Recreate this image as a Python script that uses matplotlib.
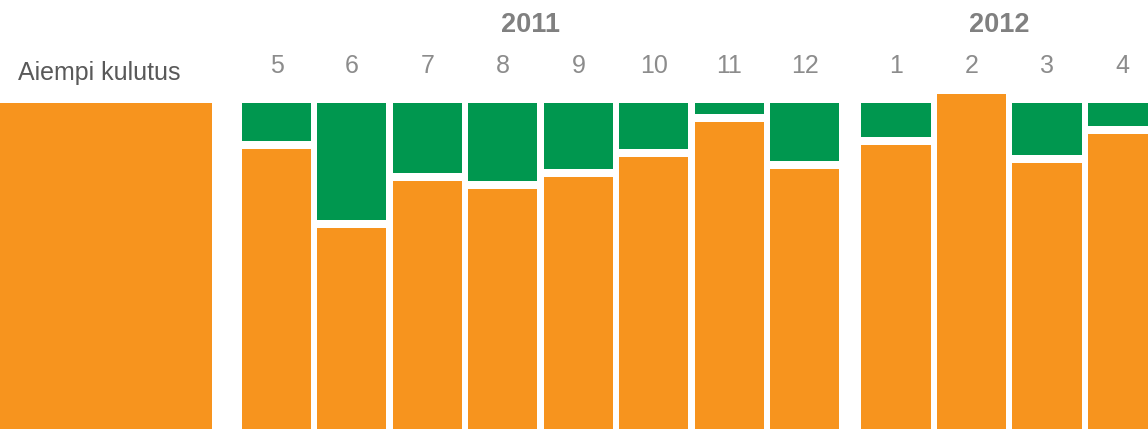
import matplotlib
matplotlib.use("Agg")
import matplotlib.pyplot as plt
import numpy as np

plt.rcParams['font.family'] = ['Liberation Sans', 'DejaVu Sans']

# ---- data ----
baseline_label = "Aiempi kulutus"
baseline_value = 100.0
months = ["5", "6", "7", "8", "9", "10", "11", "12", "1", "2", "3", "4"]
month_year = ["2011"] * 8 + ["2012"] * 4
years = ["2011", "2012"]
consumption = [85.9, 61.7, 76.1, 73.6, 77.3, 83.4, 94.2, 79.8, 87.1, 102.8, 81.6, 90.5]

# ---- style ----
ORANGE = "#F7941E"
GREEN = "#00974F"
W, H = 1148, 429
px_per_unit_x = 75.5
px_per_unit_y = 3.26
bar_w = 69 / px_per_unit_x
first_center = 276.5 / px_per_unit_x
year_gap = 15.5 / px_per_unit_x
split_gap = 8 / px_per_unit_y
base_center = 106 / px_per_unit_x
base_width = 212 / px_per_unit_x

fig = plt.figure(figsize=(W / 100, H / 100), dpi=100)
ax = fig.add_axes([0, 0, 1, 1])
ax.set_xlim(0, W / px_per_unit_x)
ax.set_ylim(0, H / px_per_unit_y)
ax.axis("off")

# baseline bar
ax.bar(base_center, baseline_value, width=base_width, color=ORANGE, linewidth=0)
ax.text(99 / px_per_unit_x, (H - 80) / px_per_unit_y, baseline_label, ha="center", va="baseline",
        fontsize=18, color="#595959")

# monthly bars
xs = []
for i, (m, y, v) in enumerate(zip(months, month_year, consumption)):
    gidx = years.index(y)
    x = first_center + i + year_gap * gidx
    xs.append(x)
    ax.bar(x, v, width=bar_w, color=ORANGE, linewidth=0)
    if v < baseline_value:
        bottom = v + split_gap
        ax.bar(x, baseline_value - bottom, bottom=bottom, width=bar_w, color=GREEN, linewidth=0)
    ax.text(x, (H - 73) / px_per_unit_y, m, ha="center", va="baseline", fontsize=18, color="#8C8C8C")

xs = np.array(xs)
for y in years:
    sel = [k for k, yy in enumerate(month_year) if yy == y]
    cx = xs[sel].mean() - 10 / px_per_unit_x
    ax.text(cx, (H - 32) / px_per_unit_y, y, ha="center", va="baseline", fontsize=19.5,
            fontweight="bold", color="#808080")

fig.savefig("out.png", dpi=100)
